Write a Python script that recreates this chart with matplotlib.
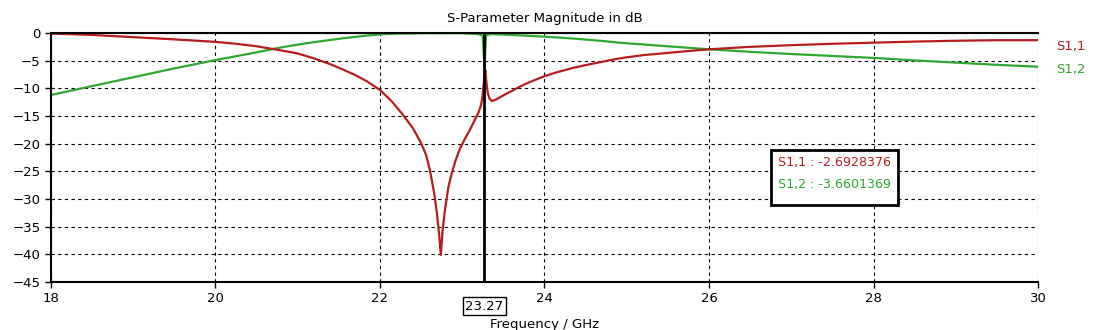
import numpy as np
from matplotlib import pyplot as plt
from matplotlib.patches import Rectangle

plt.rcParams['font.family'] = ['DejaVu Sans']

# S1,1 (red)
freq_s11 = [18, 18.5, 19, 19.5, 20, 20.25, 20.5, 20.78, 21.0, 21.2, 21.39, 21.55,
            21.7, 21.85, 22.0, 22.14, 22.28, 22.4, 22.49, 22.56, 22.61, 22.66,
            22.69, 22.72, 22.74, 22.76, 22.79, 22.83, 22.87, 22.92, 22.97, 23.03,
            23.09, 23.15, 23.2, 23.23, 23.25, 23.265, 23.28, 23.295, 23.31, 23.33,
            23.36, 23.4, 23.45, 23.52, 23.6, 23.7, 23.8, 23.9, 24.0, 24.15,
            24.35, 24.5, 24.67, 24.8, 24.95, 25.2, 25.5, 25.75, 26.0, 26.5,
            27.0, 27.5, 28.0, 28.5, 29.0, 29.5, 30.0]
s11 = [-0.1, -0.35, -0.75, -1.15, -1.6, -1.95, -2.4, -3.1, -3.7, -4.6, -5.6, -6.6,
       -7.6, -8.8, -10.3, -12.3, -14.8, -17.2, -19.6, -22.0, -25.0, -29.0,
       -32.3, -36.5, -40.1, -36.0, -32.0, -28.0, -25.5, -23.0, -21.0, -19.2,
       -17.6, -15.8, -14.3, -13.0, -11.0, -8.5, -6.7, -9.0, -10.8, -11.8,
       -12.3, -12.1, -11.7, -11.1, -10.5, -9.7, -9.0, -8.4, -7.8, -7.1,
       -6.3, -5.8, -5.3, -4.9, -4.5, -4.0, -3.6, -3.25, -2.95, -2.5,
       -2.2, -1.95, -1.75, -1.55, -1.4, -1.3, -1.3]

# S1,2 (green)
freq_s12 = [18, 18.5, 19, 19.5, 20, 20.5, 20.78, 21.0, 21.2, 21.4, 21.55, 21.7,
            21.85, 22.0, 22.25, 22.5, 23.0, 23.2, 23.25, 23.27, 23.29, 23.35,
            23.6, 24.0, 24.35, 24.67, 24.95, 25.5, 26.0, 26.5, 27.0, 27.5,
            28.0, 28.5, 29.0, 29.5, 30.0]
s12 = [-11.2, -9.6, -8.0, -6.4, -4.9, -3.5, -2.65, -2.1, -1.65, -1.25, -0.95, -0.7,
       -0.45, -0.25, -0.1, -0.05, -0.05, -0.2, -0.5, -6.3, -0.4, -0.2,
       -0.35, -0.66, -1.0, -1.4, -1.8, -2.4, -2.95, -3.4, -3.8, -4.15,
       -4.5, -4.95, -5.35, -5.75, -6.1]

marker_f = 23.27
x_ticks = [18, 20, 22, 24, 26, 28, 30]
y_ticks = [0, -5, -10, -15, -20, -25, -30, -35, -40, -45]

red = '#b81c1c'
green = '#2ea82e'
fs = 9.5

fig = plt.figure(figsize=(11.07, 3.3), dpi=100)
ax = fig.add_axes([0.046, 0.1455, 0.8917, 0.7545])

ax.plot(freq_s12, s12, color=green, lw=1.6)
ax.plot(freq_s11, s11, color=red, lw=1.6)
ax.axvline(marker_f, color='black', lw=2)

ax.set_xlim(18, 30)
ax.set_ylim(-45, 0)
ax.set_xticks(x_ticks)
ax.set_yticks(y_ticks)
ax.grid(True, color='black', ls=(0, (3, 3)), lw=0.8)
ax.tick_params(direction='out', length=4, width=1, labelsize=fs, colors='black')
ax.spines['right'].set_visible(False)
for s in ['left', 'bottom', 'top']:
    ax.spines[s].set_linewidth(1.5)

ax.set_title('S-Parameter Magnitude in dB', fontsize=fs, pad=8)
ax.set_xlabel('Frequency / GHz', fontsize=fs, labelpad=9)

# marker value below axis
ax.text(marker_f, -49.4, '23.27', ha='center', va='center', fontsize=fs,
        bbox=dict(boxstyle='square,pad=0.2', fc='white', ec='black', lw=1))

# curve names at right
ax.text(1.018, 0.945, 'S1,1', color=red, fontsize=fs, transform=ax.transAxes, va='center')
ax.text(1.018, 0.852, 'S1,2', color=green, fontsize=fs, transform=ax.transAxes, va='center')

# readout box
ax.add_patch(Rectangle((0.7295, 0.309), 0.1287, 0.221, transform=ax.transAxes,
                       fc='white', ec='black', lw=2, zorder=5))
ax.text(0.7366, 0.478, 'S1,1 : -2.6928376', color=red, fontsize=9.1,
        transform=ax.transAxes, va='center', zorder=6)
ax.text(0.7366, 0.39, 'S1,2 : -3.6601369', color=green, fontsize=9.1,
        transform=ax.transAxes, va='center', zorder=6)

fig.savefig('out.png', dpi=100)
